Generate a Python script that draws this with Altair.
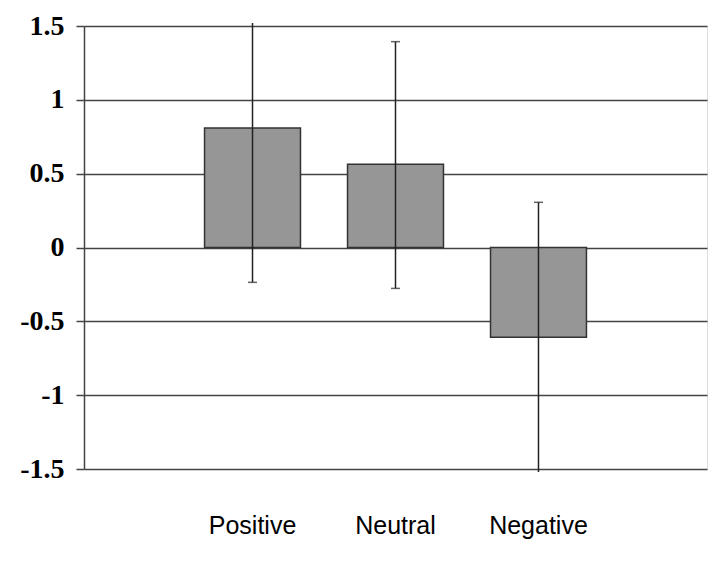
import altair as alt
import pandas as pd

categories = ["Positive", "Neutral", "Negative"]
means = [0.81, 0.563, -0.608]
err_low = [-0.236, -0.277, -1.52]
err_high = [1.52, 1.394, 0.306]
y_ticks = [-1.5, -1.0, -0.5, 0.0, 0.5, 1.0, 1.5]

df = pd.DataFrame({"cat": categories, "mean": means, "lo": err_low, "hi": err_high})
caps = pd.DataFrame(
    [{"cat": c, "v": v} for c, l, h in zip(categories, err_low, err_high) for v in (l, h) if abs(v) <= 1.5]
)

xscale = alt.Scale(domain=categories, paddingInner=0.329, paddingOuter=0.843)
yscale = alt.Scale(domain=[-1.5, 1.5], nice=False, zero=False)

x_axis = alt.Axis(
    title=None, ticks=False, domain=False, labelAngle=0, labelPadding=44,
    labelFont="Liberation Sans", labelFontSize=25, labelColor="black",
)
y_axis = alt.Axis(
    title=None, values=y_ticks, grid=True, gridColor="#444444", gridWidth=1.5,
    tickColor="#444444", tickSize=8, tickWidth=1.5, domainColor="#444444", domainWidth=1.5,
    labelFont="Liberation Serif", labelFontWeight="bold", labelFontSize=28, labelColor="black",
    labelPadding=12, labelExpr="'' + datum.value", minExtent=71, maxExtent=71,
)

bars = alt.Chart(df).mark_bar(fill="#969696", stroke="#333333", strokeWidth=1.5).encode(
    x=alt.X("cat:N", sort=categories, scale=xscale, axis=x_axis),
    y=alt.Y("mean:Q", scale=yscale, axis=y_axis),
)

rules = alt.Chart(df).mark_rule(color="#222222", strokeWidth=1.5).encode(
    x=alt.X("cat:N", sort=categories, scale=xscale),
    y=alt.Y("lo:Q", scale=yscale),
    y2="hi:Q",
)

cap_marks = alt.Chart(caps).mark_tick(color="#222222", size=9, thickness=1.5).encode(
    x=alt.X("cat:N", sort=categories, scale=xscale),
    y=alt.Y("v:Q", scale=yscale),
)

chart = (bars + rules + cap_marks).properties(
    width=623, height=443,
    padding={"left": 5, "top": 4, "right": 5, "bottom": 5},
).configure_view(stroke="#444444", strokeWidth=1.5).configure(background="white")

chart.save("out.html", embed_options={"renderer": "svg", "actions": False})
